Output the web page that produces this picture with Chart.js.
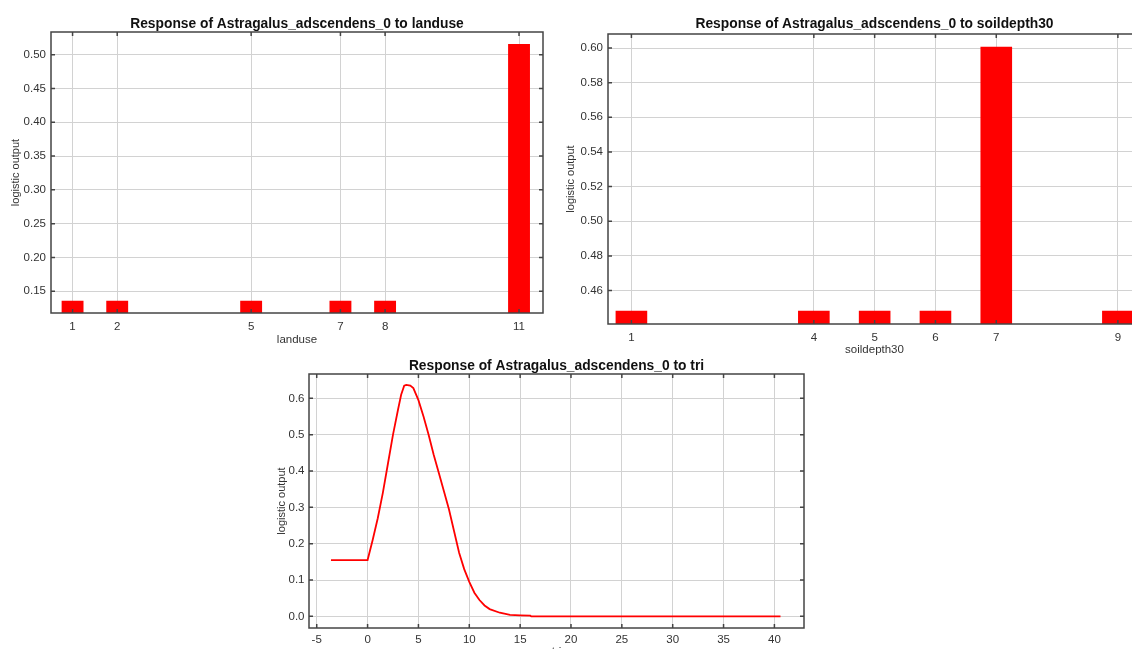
<!DOCTYPE html>
<html>
<head>
<meta charset="utf-8">
<script src="https://cdn.jsdelivr.net/npm/chart.js@4"></script>
<style>
  html, body { margin: 0; padding: 0; background: #fff; overflow: hidden; width: 1132px; height: 649px; }
  .box { position: absolute; }
</style>
</head>
<body>
<div class="box" style="left:0;top:0;width:560px;height:350px"><canvas id="landuseChart"></canvas></div>
<div class="box" style="left:560px;top:0;width:600px;height:365px"><canvas id="soilChart"></canvas></div>
<div class="box" style="left:270px;top:350px;width:560px;height:320px"><canvas id="triChart"></canvas></div>
<script>
const landuseCats = [1, 2, 5, 7, 8, 11];
const landuseVals = [0.136, 0.136, 0.136, 0.136, 0.136, 0.516];
const landuseYTicks = [0.15, 0.20, 0.25, 0.30, 0.35, 0.40, 0.45, 0.50];

const soilCats = [1, 4, 5, 6, 7, 9];
const soilVals = [0.4483, 0.4483, 0.4483, 0.4483, 0.6008, 0.4483];
const soilYTicks = [0.46, 0.48, 0.50, 0.52, 0.54, 0.56, 0.58, 0.60];

const triX = [-3.6, 0, 0.5, 1, 1.5, 2, 2.5, 3, 3.3, 3.6, 3.8, 4.2, 4.5, 5, 5.5, 6, 6.5, 7, 7.5, 8, 8.5, 9, 9.5, 10, 10.5, 11, 11.5, 12, 13, 14, 15, 16, 16.1, 40.6];
const triY = [0.155, 0.155, 0.21, 0.27, 0.34, 0.42, 0.50, 0.57, 0.61, 0.635, 0.637, 0.635, 0.628, 0.595, 0.55, 0.50, 0.445, 0.395, 0.345, 0.295, 0.235, 0.175, 0.13, 0.095, 0.065, 0.045, 0.03, 0.02, 0.01, 0.004, 0.003, 0.002, 0.0, 0.0];
const triXTicks = [-5, 0, 5, 10, 15, 20, 25, 30, 35, 40];
const triYTicks = [0.0, 0.1, 0.2, 0.3, 0.4, 0.5, 0.6];

const FONT = '"Liberation Sans", Arial, sans-serif';
Chart.defaults.font.family = FONT;
Chart.defaults.color = '#333';

// box round the plot, small inward tick marks, title centred on the plot
const framePlugin = {
  id: 'frame',
  afterDraw(chart, args, opts) {
    const { ctx, chartArea: a, scales: { x, y } } = chart;
    ctx.save();
    ctx.strokeStyle = '#444';
    ctx.lineWidth = 1.5;
    ctx.beginPath();
    x.ticks.forEach((t) => {
      const px = x.getPixelForValue(t.value);
      ctx.moveTo(px, a.top); ctx.lineTo(px, a.top + 4);
      ctx.moveTo(px, a.bottom); ctx.lineTo(px, a.bottom - 4);
    });
    y.ticks.forEach((t) => {
      const py = y.getPixelForValue(t.value);
      ctx.moveTo(a.left, py); ctx.lineTo(a.left + 4, py);
      ctx.moveTo(a.right, py); ctx.lineTo(a.right - 4, py);
    });
    ctx.stroke();
    ctx.strokeRect(a.left, a.top, a.right - a.left, a.bottom - a.top);
    ctx.font = 'bold 13.8px ' + FONT;
    ctx.fillStyle = '#111';
    ctx.textAlign = 'center';
    ctx.textBaseline = 'middle';
    ctx.fillText(opts.text, (a.left + a.right) / 2, opts.y);
    ctx.restore();
  }
};

function axisX(min, max, ticks, title, fmt, height, tickPad, titlePad) {
  return {
    type: 'linear', min, max, offset: false,
    afterBuildTicks: (s) => { s.ticks = ticks.map((v) => ({ value: v })); },
    afterFit: (s) => { s.height = height; },
    grid: { color: '#d2d2d2', drawTicks: false, offset: false },
    border: { display: false },
    ticks: { font: { size: 11.5 }, padding: tickPad, maxRotation: 0, autoSkip: false, callback: fmt },
    title: { display: true, text: title, font: { size: 11.5 }, padding: { top: 0, bottom: titlePad } }
  };
}

function axisY(min, max, ticks, fmt, width, tickPad, titlePad) {
  return {
    type: 'linear', min, max, beginAtZero: false,
    afterBuildTicks: (s) => { s.ticks = ticks.map((v) => ({ value: v })); },
    afterFit: (s) => { s.width = width; },
    grid: { color: '#d2d2d2', drawTicks: false },
    border: { display: false },
    ticks: { font: { size: 11.5 }, padding: tickPad, autoSkip: false, callback: fmt },
    title: { display: true, text: 'logistic output', font: { size: 11 }, padding: { top: titlePad, bottom: 0 } }
  };
}

function barChart(id, cats, vals, yTicks, cfg) {
  return new Chart(document.getElementById(id), {
    type: 'bar',
    data: {
      datasets: [{
        data: cats.map((c, i) => ({ x: c, y: vals[i] })),
        backgroundColor: '#ff0000',
        borderWidth: 0,
        categoryPercentage: 1,
        barPercentage: cfg.barPct
      }]
    },
    options: {
      responsive: true, maintainAspectRatio: false, animation: false,
      layout: { padding: cfg.pad },
      plugins: { legend: { display: false }, tooltip: { enabled: false }, frame: { text: cfg.title, y: cfg.titleY } },
      scales: {
        x: axisX(cfg.xMin, cfg.xMax, cats, cfg.xTitle, (v) => String(v), cfg.xH, cfg.xTickPad, cfg.xTitlePad),
        y: axisY(cfg.yMin, cfg.yMax, yTicks, (v) => Number(v).toFixed(2), cfg.yW, cfg.yTickPad, cfg.yTitlePad)
      }
    },
    plugins: [framePlugin]
  });
}

barChart('landuseChart', landuseCats, landuseVals, landuseYTicks, {
  title: 'Response of Astragalus_adscendens_0 to landuse', titleY: 24,
  barPct: 0.49, pad: { left: 0, top: 32, right: 17, bottom: 0 },
  xMin: 0.517, xMax: 11.537, xTitle: 'landuse', xH: 37, xTickPad: 7, xTitlePad: 3,
  yMin: 0.1177, yMax: 0.5337, yW: 51, yTickPad: 5, yTitlePad: 9
});

barChart('soilChart', soilCats, soilVals, soilYTicks, {
  title: 'Response of Astragalus_adscendens_0 to soildepth30', titleY: 24,
  barPct: 0.52, pad: { left: 0, top: 34, right: 19, bottom: 0 },
  xMin: 0.615, xMax: 9.38, xTitle: 'soildepth30', xH: 41, xTickPad: 7, xTitlePad: 8,
  yMin: 0.4407, yMax: 0.6081, yW: 48, yTickPad: 5, yTitlePad: 4
});

new Chart(document.getElementById('triChart'), {
  type: 'line',
  data: {
    datasets: [{
      data: triX.map((x, i) => ({ x, y: triY[i] })),
      borderColor: '#ff0000',
      borderWidth: 1.8,
      pointRadius: 0,
      tension: 0,
      fill: false
    }]
  },
  options: {
    responsive: true, maintainAspectRatio: false, animation: false,
    layout: { padding: { left: 0, top: 24, right: 26, bottom: 0 } },
    plugins: { legend: { display: false }, tooltip: { enabled: false }, frame: { text: 'Response of Astragalus_adscendens_0 to tri', y: 16 } },
    scales: {
      x: axisX(-5.76, 42.91, triXTicks, 'tri', (v) => String(v), 42, 5, 11),
      y: axisY(-0.032, 0.667, triYTicks, (v) => Number(v).toFixed(1), 39, 4.5, 5)
    }
  },
  plugins: [framePlugin]
});
</script>
</body>
</html>
